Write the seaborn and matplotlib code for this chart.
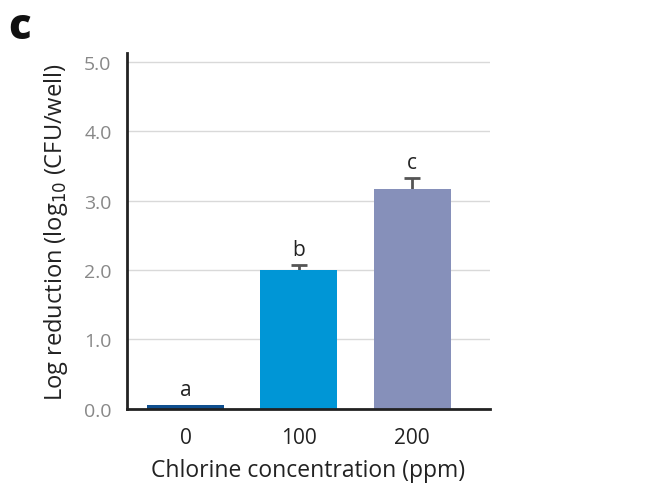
import matplotlib
matplotlib.use("Agg")
import matplotlib.pyplot as plt
import seaborn as sns
import pandas as pd

# Log reduction of CFU per well at each chlorine concentration
concentrations = ["0", "100", "200"]
log_reduction = [0.05, 2.00, 3.16]
error_up = [0.0, 0.07, 0.17]
letters = ["a", "b", "c"]
bar_colors = ["#0f4f8f", "#0096d6", "#8690ba"]
y_ticks = [0.0, 1.0, 2.0, 3.0, 4.0, 5.0]

sns.set_theme(style="white")
plt.rcParams["font.family"] = ["Open Sans", "DejaVu Sans"]

df = pd.DataFrame({"conc": concentrations, "lr": log_reduction})

fig = plt.figure(figsize=(6.57, 4.85), dpi=100)
ax = fig.add_axes([0.193, 0.155, 0.553, 0.733])

sns.barplot(data=df, x="conc", y="lr", hue="conc", palette=bar_colors,
            saturation=1, width=0.68, linewidth=0, legend=False,
            errorbar=None, ax=ax, zorder=3)

# error bars sit behind the bars so only the upper whisker shows
for i, (v, e) in enumerate(zip(log_reduction, error_up)):
    if e > 0:
        ax.errorbar(i, v, yerr=e, fmt="none", ecolor="#555555",
                    elinewidth=2, capsize=6, capthick=2, zorder=2)
    ax.text(i, v + e + 0.07, letters[i], ha="center", va="bottom",
            fontsize=15, color="#222222")

ax.set_xlim(-0.52, 2.69)
ax.set_ylim(0, 5.12)
ax.set_yticks(y_ticks)
ax.set_yticklabels([f"{t:.1f}" for t in y_ticks], color="#888888", fontsize=14)
ax.tick_params(axis="x", labelsize=15, colors="#222222", pad=13)
ax.tick_params(axis="y", pad=11)
ax.tick_params(length=0)

ax.yaxis.grid(True, color="#d9d9d9", linewidth=1, zorder=0)
ax.set_axisbelow(True)

for side in ["top", "right"]:
    ax.spines[side].set_visible(False)
for side in ["left", "bottom"]:
    ax.spines[side].set_color("#222222")
    ax.spines[side].set_linewidth(2)
    ax.spines[side].set_zorder(5)

ax.set_xlabel("Chlorine concentration (ppm)", fontsize=16.5, color="#222222", labelpad=7)
ax.set_ylabel("Log reduction (log$_{10}$ (CFU/well)", fontsize=17, color="#222222", labelpad=10)

fig.text(0.012, 0.985, "c", fontsize=30, fontweight="heavy", color="#111111",
         ha="left", va="top")

fig.savefig("out.png", dpi=100, facecolor="white")
